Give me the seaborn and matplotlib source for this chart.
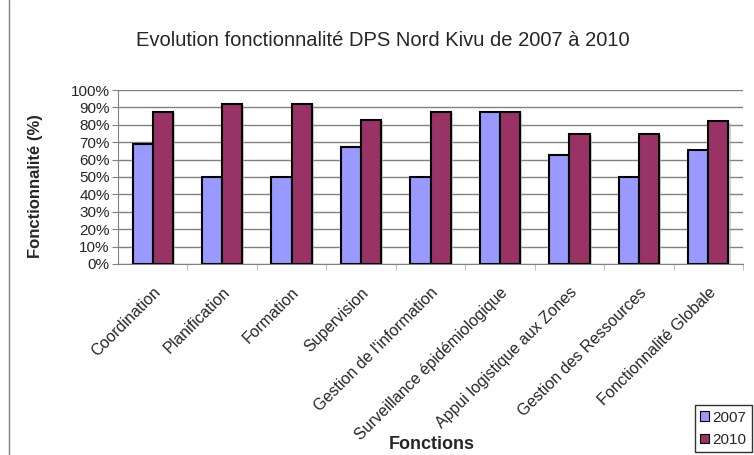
import numpy as np
import pandas as pd
import matplotlib
matplotlib.use("Agg")
import matplotlib.pyplot as plt
import matplotlib.patheffects as pe
from matplotlib.ticker import PercentFormatter, FixedLocator
import seaborn as sns

# Data
fonctions = [
    "Coordination", "Planification", "Formation", "Supervision",
    "Gestion de l'information", "Surveillance épidémiologique",
    "Appui logistique aux Zones", "Gestion des Ressources",
    "Fonctionnalité Globale",
]
val_2007 = [69, 50, 50, 67, 50, 87.5, 62.5, 50, 65.5]
val_2010 = [87.5, 92, 92, 83, 87.5, 87.5, 75, 75, 82]
annees = ["2007", "2010"]

df = pd.DataFrame({
    "Fonction": fonctions * 2,
    "Annee": [annees[0]] * len(fonctions) + [annees[1]] * len(fonctions),
    "Valeur": val_2007 + val_2010,
})

sns.set_style("white")
plt.rcParams['font.family'] = ['Liberation Sans', 'DejaVu Sans']

fig = plt.figure(figsize=(7.54, 4.55), dpi=100)
ax = fig.add_axes([0.1565, 0.42, 0.829, 0.382])

sns.barplot(data=df, x="Fonction", y="Valeur", hue="Annee",
            palette=["#9999FF", "#993366"], saturation=1, width=0.58, gap=0,
            edgecolor="black", linewidth=1.5, ax=ax, legend=True)

# light drop shadow like the Excel original
for p in ax.patches:
    p.set_path_effects([pe.SimplePatchShadow(offset=(1.5, -1.0), shadow_rgbFace="#b0b0b0", alpha=0.6),
                        pe.Normal()])

ax.set_ylim(0, 100)
ax.set_xlim(-0.5, len(fonctions) - 0.5)
ax.set_yticks(np.arange(0, 101, 10))
ax.yaxis.set_major_formatter(PercentFormatter(decimals=0))
ax.yaxis.grid(True, color="#808080", linewidth=1)
ax.set_axisbelow(True)
for s in ["top", "right"]:
    ax.spines[s].set_visible(False)
ax.spines["left"].set_color("#808080")
ax.spines["bottom"].set_color("#808080")
ax.tick_params(axis="y", length=4, color="#808080", labelsize=11, pad=2, left=True)

ax.set_xticks(range(len(fonctions)))
ax.set_xticklabels(fonctions, rotation=45, ha="right", rotation_mode="anchor", fontsize=11.5)
ax.tick_params(axis="x", which="major", length=0, pad=15)
ax.xaxis.set_minor_locator(FixedLocator(np.arange(0.5, len(fonctions), 1)))
ax.tick_params(axis="x", which="minor", length=4, color="#b0b0b0", bottom=True)

ax.set_xlabel("Fonctions", fontsize=13, fontweight="bold")
ax.xaxis.set_label_coords(0.502, -0.99)
ax.set_ylabel("Fonctionnalité (%)", fontsize=12, fontweight="bold")
ax.yaxis.set_label_coords(-0.12, 0.445)

fig.text(0.508, 0.912, "Evolution fonctionnalité DPS Nord Kivu de 2007 à 2010",
         fontsize=14.5, ha="center", va="center")

leg = ax.legend(loc="lower right", bbox_to_anchor=(0.997, 0.006),
                bbox_transform=fig.transFigure, frameon=True, fontsize=11,
                handlelength=0.6, handleheight=0.6, handletextpad=0.2,
                borderpad=0.35, labelspacing=0.55, borderaxespad=0, fancybox=False)
leg.get_frame().set_edgecolor("black")
leg.get_frame().set_linewidth(1)
for h in leg.legend_handles:
    h.set_linewidth(0.8)
    h.set_path_effects([])

fig.add_artist(plt.Line2D([0.012, 0.012], [0, 1], color="#808080", linewidth=1,
                          transform=fig.transFigure))

fig.savefig("out.png", dpi=100)
